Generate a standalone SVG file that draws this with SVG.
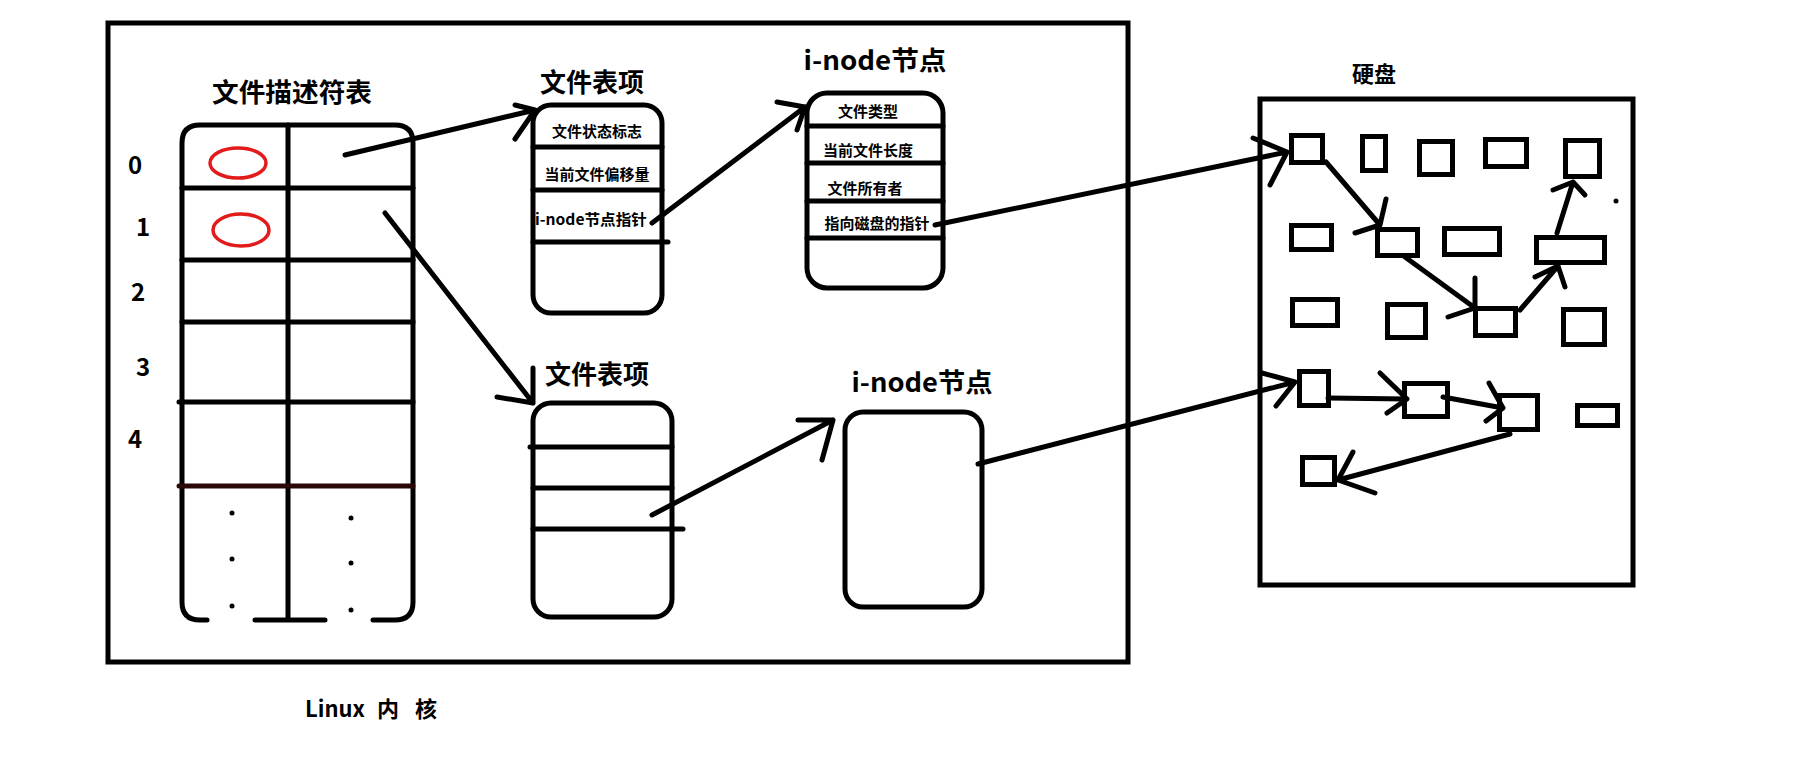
<svg xmlns="http://www.w3.org/2000/svg" width="1798" height="766" viewBox="0 0 1798 766">
<style>
.ln{fill:none;stroke:#000;stroke-width:5;stroke-linecap:round;stroke-linejoin:round}
.bx{fill:none;stroke:#000;stroke-width:5}
.t{font-family:"Microsoft YaHei","Noto Sans CJK SC","Noto Sans",sans-serif;font-weight:bold;fill:#000;text-anchor:middle;dominant-baseline:central}
.st{text-anchor:start}
.h{font-size:26px}
.s{font-size:15px}
.n{font-size:24px}
.red{fill:none;stroke:#e21b1b;stroke-width:3.5}
.dot{fill:#000}
</style>
<rect width="1798" height="766" fill="#fff"/>
<g id="kernel">
<rect class="bx" x="108" y="23" width="1020" height="639"/>
<text class="t st" x="305" y="707" font-size="22">Linux<tspan x="377">内</tspan><tspan x="415">核</tspan></text>
</g>
<g id="fd-table">
<text class="t h" x="292" y="90" textLength="160" lengthAdjust="spacingAndGlyphs">文件描述符表</text>
<path class="ln" d="M207,620 H200 Q182,620 182,602 V143 Q182,125 200,125 H395 Q413,125 413,143 V602 Q413,620 395,620 H373"/>
<path class="ln" d="M255,620 H325 M288,125 V620 M182,188 H413 M182,260 H413 M182,322 H413 M179,402 H413"/>
<path d="M179,486 H413" fill="none" stroke="#2a0808" stroke-width="5" stroke-linecap="round"/>
<ellipse class="red" cx="238" cy="163" rx="28" ry="15"/>
<ellipse class="red" cx="241" cy="230" rx="28" ry="16"/>
<text class="t n" x="135" y="163">0</text>
<text class="t n" x="143" y="225">1</text>
<text class="t n" x="138" y="290">2</text>
<text class="t n" x="143" y="365">3</text>
<text class="t n" x="135" y="437">4</text>
<circle class="dot" cx="232" cy="513" r="2.5"/>
<circle class="dot" cx="232" cy="559" r="2.5"/>
<circle class="dot" cx="232" cy="606" r="2.5"/>
<circle class="dot" cx="351" cy="518" r="2.5"/>
<circle class="dot" cx="351" cy="563" r="2.5"/>
<circle class="dot" cx="351" cy="610" r="2.5"/>
</g>
<g id="file-entry-1">
<text class="t h" x="592" y="80">文件表项</text>
<rect class="bx" x="533" y="105" width="129" height="208" rx="18"/>
<path class="ln" d="M533,147 H662 M533,190 H662 M533,242 H668"/>
<text class="t s" x="597" y="130">文件状态标志</text>
<text class="t s" x="597" y="173">当前文件偏移量</text>
<text class="t s" x="591" y="218" textLength="112" lengthAdjust="spacingAndGlyphs">i-node节点指针</text>
</g>
<g id="inode-1">
<text class="t h" x="875" y="58" textLength="143" lengthAdjust="spacingAndGlyphs">i-node节点</text>
<rect class="bx" x="807" y="93" width="136" height="195" rx="20"/>
<path class="ln" d="M807,126 H943 M807,163 H943 M807,201 H943 M807,238 H943"/>
<text class="t s" x="868" y="110">文件类型</text>
<text class="t s" x="868" y="149">当前文件长度</text>
<text class="t s" x="865" y="187">文件所有者</text>
<text class="t s" x="877" y="222">指向磁盘的指针</text>
</g>
<g id="file-entry-2">
<text class="t h" x="597" y="372">文件表项</text>
<rect class="bx" x="533" y="403" width="139" height="214" rx="18"/>
<path class="ln" d="M530,447 H672 M533,488 H672 M533,529 H683"/>
</g>
<g id="inode-2">
<text class="t h" x="922" y="380" textLength="141" lengthAdjust="spacingAndGlyphs">i-node节点</text>
<rect class="bx" x="845" y="412" width="137" height="195" rx="18"/>
</g>
<g id="disk">
<text class="t" x="1374" y="72" font-size="22">硬盘</text>
<rect class="bx" x="1260" y="99" width="373" height="486"/>
<rect class="bx" x="1291.5" y="135.5" width="31" height="27"/>
<rect class="bx" x="1362.5" y="136.5" width="23" height="34"/>
<rect class="bx" x="1419.5" y="141.5" width="33" height="33"/>
<rect class="bx" x="1485.5" y="139.5" width="41" height="27"/>
<rect class="bx" x="1565.5" y="140.5" width="34" height="36"/>
<rect class="bx" x="1291.5" y="225.5" width="40" height="24"/>
<rect class="bx" x="1377.5" y="229.5" width="40" height="26"/>
<rect class="bx" x="1444.5" y="228.5" width="55" height="26"/>
<rect class="bx" x="1536.5" y="237.5" width="68" height="25"/>
<rect class="bx" x="1292.5" y="299.5" width="45" height="26"/>
<rect class="bx" x="1387.5" y="304.5" width="38" height="33"/>
<rect class="bx" x="1475.5" y="308.5" width="40" height="27"/>
<rect class="bx" x="1563.5" y="309.5" width="41" height="35"/>
<rect class="bx" x="1299.5" y="371.5" width="29" height="34"/>
<rect class="bx" x="1404.5" y="383.5" width="43" height="33"/>
<rect class="bx" x="1499.5" y="395.5" width="38" height="34"/>
<rect class="bx" x="1577.5" y="405.5" width="40" height="20"/>
<rect class="bx" x="1302.5" y="457.5" width="32" height="27"/>
<circle class="dot" cx="1616" cy="201" r="2.5"/>
</g>
<g id="connectors">
<path class="ln" d="M345,155 L535,110 M515,105 L535,110 L515,139"/>
<path class="ln" d="M385,213 L533,403 M533,368 L533,403 L497,397"/>
<path class="ln" d="M652,223 L805,107 M777,102 L805,107 L797,130"/>
<path class="ln" d="M652,515 L833,420 M798,420 L833,420 L822,460"/>
<path class="ln" d="M935,225 L1287,152 M1253,138 L1287,152 L1270,185"/>
<path class="ln" d="M978,464 L1295,382 M1262,373 L1295,382 L1276,406"/>
<path class="ln" d="M1326,162 L1380,225 M1386,199 L1380,225 L1355,233"/>
<path class="ln" d="M1405,257 L1475,308 M1475,278 L1475,308 L1448,317"/>
<path class="ln" d="M1520,310 L1558,266 M1535,277 L1558,266 L1565,287"/>
<path class="ln" d="M1557,233 L1573,182 M1553,190 L1573,182 L1585,195"/>
<path class="ln" d="M1328,398 L1407,399 M1380,373 L1407,399 L1387,413"/>
<path class="ln" d="M1443,397 L1503,408 M1489,383 L1503,408 L1486,421"/>
<path class="ln" d="M1510,434 L1338,480 M1353,452 L1338,480 L1375,493"/>
</g>
</svg>
